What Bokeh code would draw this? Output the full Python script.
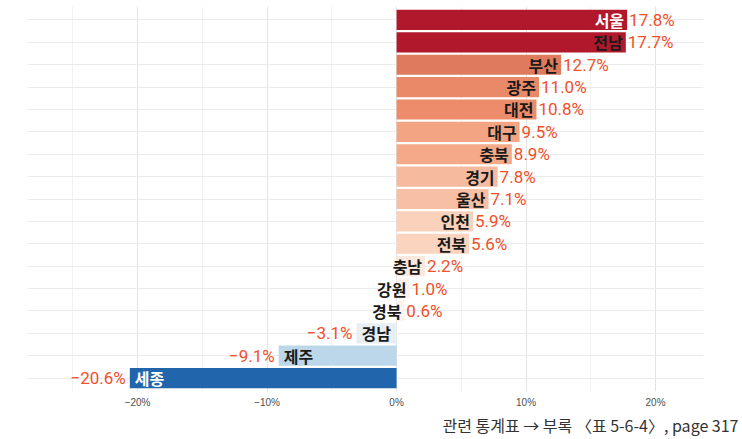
from bokeh.plotting import figure
from bokeh.models import Range1d, FixedTicker, ColumnDataSource, Title
from bokeh.core.properties import value
from bokeh.embed import file_html
from bokeh.resources import INLINE

# ---- data (bottom to top) ----
regions = ["세종", "제주", "경남", "경북", "강원", "충남", "전북", "인천", "울산",
           "경기", "충북", "대구", "대전", "광주", "부산", "전남", "서울"]
values = [-20.6, -9.1, -3.1, 0.6, 1.0, 2.2, 5.6, 5.9, 7.1,
          7.8, 8.9, 9.5, 10.8, 11.0, 12.7, 17.7, 17.8]
bar_colors = ["#2166AC", "#BBD7E9", "#E7EFF5", "#FCF3EE", "#FCF1EA", "#FBE8DC",
              "#FAD4BE", "#FAD1BA", "#F7C0A5", "#F6BA9E", "#F4AA89", "#F3A482",
              "#EC8C6A", "#EA8967", "#DF7B5C", "#B2182B", "#B2182B"]
name_colors = ["white"] + ["#1a1a1a"] * 15 + ["white"]
tick_values = [-20, -10, 0, 10, 20]
minor_tick_values = [-25, -15, -5, 5, 15]
tick_labels = ["−20%", "−10%", "0%", "10%", "20%"]
caption = "관련 통계표 → 부록 〈표 5-6-4〉, page 317"

pos = list(range(1, len(regions) + 1))
pct = [f"{v:.1f}%".replace("-", "−") for v in values]

src = ColumnDataSource(dict(y=pos, v=values, c=bar_colors))

X0, X1 = -28.5, 23.7
Y0, Y1 = 0.4, 17.6
p = figure(width=742, height=439, output_backend="svg", toolbar_location=None,
           x_range=Range1d(X0, X1), y_range=Range1d(Y0, Y1),
           min_border_left=27, min_border_right=39, min_border_top=6,
           min_border_bottom=48)
p.outline_line_color = None
p.background_fill_color = "white"

p.hbar(y="y", right="v", left=0, height=0.9, fill_color="c", line_color=None, source=src)

p.xaxis.ticker = FixedTicker(ticks=tick_values, minor_ticks=minor_tick_values)
p.xaxis.major_label_overrides = {t: l for t, l in zip(tick_values, tick_labels)}
p.xaxis.axis_line_color = None
p.xaxis.major_tick_line_color = None
p.xaxis.minor_tick_line_color = None
p.xaxis.major_tick_out = 0
p.xaxis.major_tick_in = 0
p.xaxis.minor_tick_out = 0
p.xaxis.major_label_standoff = 5
p.xaxis.major_label_text_font_size = "10px"
p.xaxis.major_label_text_color = "#4d4d4d"
p.xaxis.major_label_text_font = "Liberation Sans"
p.yaxis.visible = False

p.xgrid.grid_line_color = "#E3E3E3"
p.xgrid.minor_grid_line_color = "#F2F2F2"
p.ygrid.ticker = FixedTicker(ticks=pos)
p.ygrid.grid_line_color = "#EBEBEB"

pos_idx = [i for i, v in enumerate(values) if v >= 0]
neg_idx = [i for i, v in enumerate(values) if v < 0]

def sub(idx):
    return ColumnDataSource(dict(y=[pos[i] for i in idx], v=[values[i] for i in idx],
                                 name=[regions[i] for i in idx],
                                 nc=[name_colors[i] for i in idx],
                                 pct=[pct[i] for i in idx]))

ps, ns = sub(pos_idx), sub(neg_idx)
name_font = value("Noto Sans CJK KR")
pct_font = value("Roboto")

p.text(x="v", y="y", text="name", source=ps, text_align="right", text_baseline="middle",
       x_offset=-3, text_color="nc", text_font=name_font, text_font_style="bold",
       text_font_size="16px")
p.text(x="v", y="y", text="pct", source=ps, text_align="left", text_baseline="middle",
       x_offset=2, text_color="#F0502A", text_font=pct_font, text_font_size="17px")
p.text(x="v", y="y", text="name", source=ns, text_align="left", text_baseline="middle",
       x_offset=5, text_color="nc", text_font=name_font, text_font_style="bold",
       text_font_size="16px")
p.text(x="v", y="y", text="pct", source=ns, text_align="right", text_baseline="middle",
       x_offset=-4, text_color="#F0502A", text_font=pct_font, text_font_size="17px")

p.add_layout(Title(text=caption, align="right", offset=-35, standoff=0,
                   text_color="#333333", text_font="Noto Sans CJK KR",
                   text_font_size="16px", text_font_style="normal"), "below")

open("out.html", "w").write(file_html(p, INLINE))
